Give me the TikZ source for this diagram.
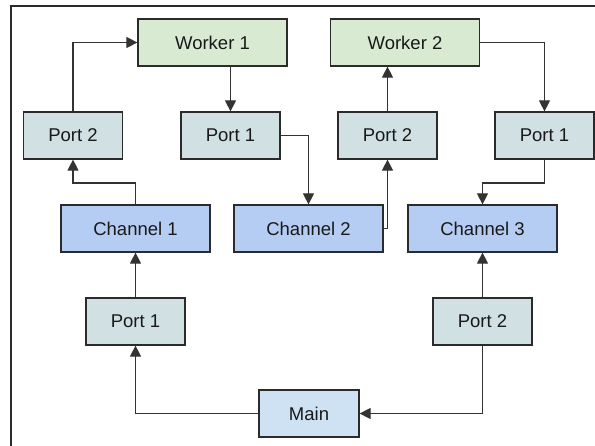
\documentclass[tikz,border=0pt]{standalone}
\usepackage{fontspec}
\setmainfont{Liberation Sans}
\usetikzlibrary{arrows.meta}
\definecolor{workerfill}{HTML}{D9EAD3}
\definecolor{portfill}{HTML}{D0E0E3}
\definecolor{chanfill}{HTML}{B6CDF3}
\definecolor{mainfill}{HTML}{CFE2F3}
\definecolor{edge}{HTML}{2B2B2B}
\definecolor{wire}{HTML}{333333}
\tikzset{
  boxbase/.style={draw=edge, line width=1.2pt, inner sep=0pt, minimum height=47pt,
    font=\fontsize{18.5}{22}\selectfont, text=black!90},
  workerbox/.style={boxbase, fill=workerfill, minimum width=149pt},
  portbox/.style={boxbase, fill=portfill, minimum width=99pt},
  chanbox/.style={boxbase, fill=chanfill, minimum width=149pt},
  mainbox/.style={boxbase, fill=mainfill, minimum width=100pt},
  arr/.style={draw=wire, line width=1.1pt, -{Triangle[length=11pt,width=11pt]}},
}
\begin{document}
\begin{tikzpicture}[x=1pt,y=-1pt]
\useasboundingbox (0,0) rectangle (595,446);
\draw[draw=edge, line width=1.5pt] (11,446) -- (11,6) -- (595,6);

\node[workerbox] (w1) at (212.5,42.5) {Worker 1};
\node[workerbox] (w2) at (405,42.5) {Worker 2};
\node[portbox] (p2a) at (73,135.5) {Port 2};
\node[portbox] (p1a) at (230.5,135.5) {Port 1};
\node[portbox] (p2b) at (387.5,135.5) {Port 2};
\node[portbox] (p1b) at (544.5,135.5) {Port 1};
\node[chanbox] (c1) at (135.5,228.5) {Channel 1};
\node[chanbox] (c2) at (308.5,228.5) {Channel 2};
\node[chanbox] (c3) at (482.5,228.5) {Channel 3};
\node[portbox] (p1c) at (135.5,321.5) {Port 1};
\node[portbox] (p2c) at (482.5,321.5) {Port 2};
\node[mainbox] (main) at (309,413.5) {Main};

\coordinate (k1) at (544.5,183);
\coordinate (k2) at (135.5,183);

\draw[arr] (p2a.north) |- (w1.west);
\draw[arr] (p1a.north |- w1.south) -- (p1a.north);
\draw[arr] (p1a.east) -| (c2.north);
\draw[arr] (c2.east) -| (p2b.south);
\draw[arr] (p2b.north) -- (p2b.north |- w2.south);
\draw[arr] (w2.east) -| (p1b.north);
\draw[arr] (p1b.south) -- (k1) -| (c3.north);
\draw[arr] (p1c.north) -- (c1.south);
\draw[arr] (c1.north) -- (k2) -| (p2a.south);
\draw[arr] (main.west) -| (p1c.south);
\draw[arr] (p2c.south) |- (main.east);
\draw[arr] (p2c.north) -- (c3.south);
\end{tikzpicture}
\end{document}
